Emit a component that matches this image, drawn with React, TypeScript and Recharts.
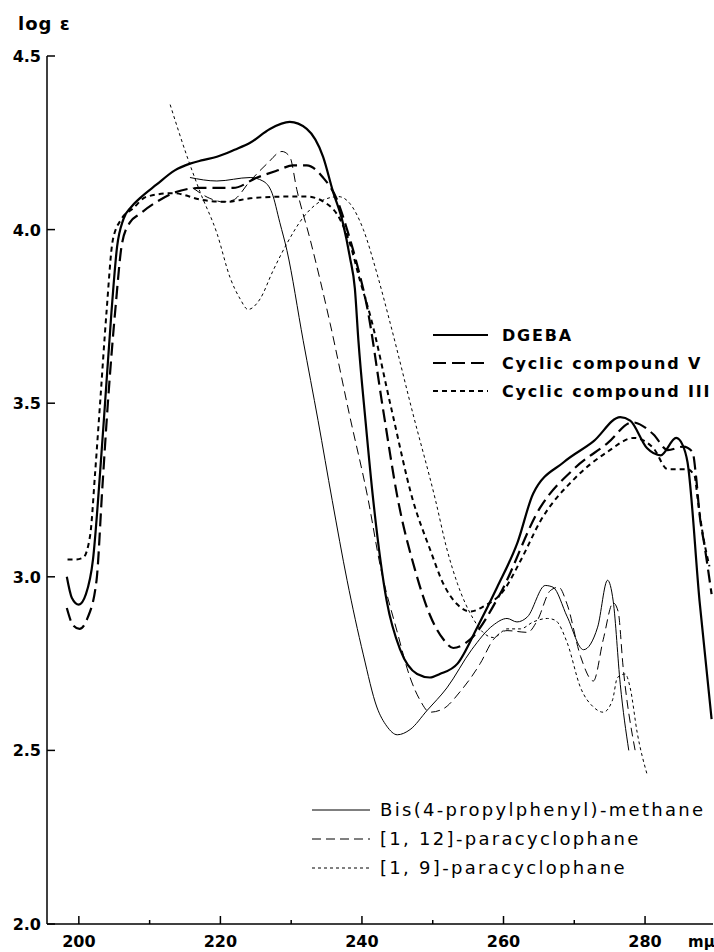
import { LineChart, Line, XAxis, YAxis } from "recharts";

// wavelength (mμ), log ε
const dgeba: [number, number][] = [
  [198.3, 3.0], [199.0, 2.94], [200.0, 2.92], [201.0, 2.95], [202.0, 3.05], [203.0, 3.3],
  [203.7, 3.5], [204.6, 3.76], [205.4, 3.95], [206.3, 4.03], [207.4, 4.065], [208.6, 4.09],
  [211.0, 4.13], [213.5, 4.17], [215.7, 4.19], [217.5, 4.2], [219.5, 4.21], [222.0, 4.23],
  [224.2, 4.25], [227.0, 4.29], [229.8, 4.31], [232.2, 4.29], [234.5, 4.21], [235.9, 4.11],
  [237.3, 4.02], [238.3, 3.92], [239.0, 3.83], [239.5, 3.68], [240.5, 3.45], [241.6, 3.22],
  [243.5, 2.93], [245.4, 2.79], [247.8, 2.72], [249.6, 2.71], [251.0, 2.72], [253.5, 2.75],
  [256.3, 2.855], [259.1, 2.97], [262.0, 3.1], [264.2, 3.24], [268.5, 3.33], [272.7, 3.39],
  [276.5, 3.46], [277.9, 3.45], [280.3, 3.37], [282.2, 3.35], [284.4, 3.4], [285.3, 3.38],
  [286.0, 3.33], [287.7, 2.93], [289.4, 2.59],
];

const cyclicV: [number, number][] = [
  [198.3, 2.91], [199.2, 2.86], [200.1, 2.85], [201.2, 2.88], [202.5, 2.99], [203.3, 3.25],
  [204.1, 3.5], [205.2, 3.78], [206.1, 3.96], [207.2, 4.02], [208.6, 4.045], [211.0, 4.08],
  [213.3, 4.105], [217.1, 4.12], [221.8, 4.12], [225.2, 4.15], [228.0, 4.17], [230.3, 4.185],
  [232.2, 4.185], [234.5, 4.15], [236.5, 4.085], [237.9, 4.0], [239.3, 3.9], [240.7, 3.78],
  [243.0, 3.48], [245.1, 3.22], [247.5, 3.02], [249.6, 2.89], [251.5, 2.82], [252.9, 2.795],
  [255.3, 2.82], [259.5, 2.95], [265.2, 3.2], [269.9, 3.31], [274.7, 3.385], [278.2, 3.445],
  [281.2, 3.41], [283.2, 3.365], [285.4, 3.375], [286.7, 3.36], [287.2, 3.29], [287.7, 3.18],
  [288.4, 3.09], [289.4, 2.95],
];

const cyclicIII: [number, number][] = [
  [198.4, 3.05], [199.5, 3.05], [200.6, 3.055], [201.6, 3.12], [202.3, 3.3], [203.0, 3.5],
  [203.9, 3.76], [204.8, 3.97], [206.0, 4.03], [207.6, 4.06], [209.6, 4.095], [213.3, 4.105],
  [217.5, 4.085], [220.9, 4.08], [224.2, 4.09], [228.9, 4.095], [232.2, 4.095], [235.0, 4.075],
  [236.9, 4.03], [238.3, 3.96], [239.7, 3.855], [241.2, 3.75], [244.2, 3.48], [247.2, 3.22],
  [249.6, 3.08], [251.5, 2.98], [253.5, 2.92], [255.3, 2.9], [257.2, 2.915], [260.0, 2.96],
  [262.5, 3.05], [265.2, 3.16], [269.9, 3.28], [274.7, 3.36], [278.4, 3.4], [281.2, 3.37],
  [283.2, 3.31], [285.9, 3.31], [287.0, 3.29], [287.4, 3.23], [288.1, 3.13], [289.1, 3.03],
];

const bisMethane: [number, number][] = [
  [215.7, 4.15], [219.5, 4.14], [224.2, 4.15], [226.0, 4.14], [227.3, 4.105], [228.4, 4.02],
  [229.4, 3.94], [231.7, 3.68], [233.8, 3.45], [235.8, 3.22], [237.9, 2.99], [240.2, 2.775],
  [242.1, 2.625], [243.5, 2.57], [245.0, 2.545], [246.8, 2.56], [249.2, 2.615], [252.0, 2.68],
  [255.5, 2.79], [258.5, 2.86], [260.5, 2.88], [261.9, 2.87], [263.4, 2.885], [265.9, 2.975],
  [267.0, 2.97], [269.0, 2.885], [271.3, 2.79], [273.3, 2.855], [274.7, 2.99], [275.5, 2.93],
  [276.5, 2.69], [277.7, 2.5],
];

const para12: [number, number][] = [
  [216.1, 4.12], [218.5, 4.09], [220.4, 4.08], [221.8, 4.085], [224.2, 4.14], [226.6, 4.19],
  [228.7, 4.225], [229.8, 4.21], [230.8, 4.115], [232.7, 3.97], [235.5, 3.73], [238.2, 3.47],
  [240.9, 3.22], [242.6, 3.03], [245.0, 2.84], [246.8, 2.71], [248.2, 2.645], [249.6, 2.61],
  [251.5, 2.62], [253.9, 2.67], [256.7, 2.75], [258.6, 2.82], [260.5, 2.845], [263.4, 2.84],
  [264.8, 2.875], [266.6, 2.96], [267.8, 2.97], [269.0, 2.92], [270.9, 2.77], [272.7, 2.7],
  [274.1, 2.82], [275.5, 2.925], [276.2, 2.9], [276.9, 2.74], [278.6, 2.5],
];

const para9: [number, number][] = [
  [212.9, 4.36], [215.3, 4.21], [217.1, 4.11], [219.5, 3.99], [221.4, 3.86], [222.8, 3.8],
  [223.9, 3.77], [225.6, 3.8], [227.4, 3.88], [229.4, 3.96], [231.7, 4.035], [234.5, 4.085],
  [236.7, 4.095], [238.3, 4.075], [240.2, 4.0], [242.1, 3.875], [244.0, 3.73], [247.2, 3.47],
  [250.4, 3.22], [252.0, 3.08], [253.5, 2.98], [255.7, 2.88], [257.1, 2.84], [258.6, 2.825],
  [260.5, 2.85], [262.4, 2.85], [264.2, 2.87], [266.2, 2.88], [267.3, 2.875], [269.0, 2.81],
  [270.9, 2.68], [272.7, 2.625], [274.1, 2.61], [275.4, 2.645], [276.1, 2.71], [277.2, 2.72],
  [277.9, 2.68], [278.9, 2.55], [280.3, 2.43],
];

const xTicks = [200, 210, 220, 230, 240, 250, 260, 270, 280];
const yTicks = [2.0, 2.5, 3.0, 3.5, 4.0, 4.5];

const upperLegend = [
  { name: "DGEBA", width: 2.2, dash: undefined },
  { name: "Cyclic compound V", width: 2.2, dash: "13 6" },
  { name: "Cyclic compound III", width: 2, dash: "5 4" },
];
const lowerLegend = [
  { name: "Bis(4-propylphenyl)-methane", width: 1, dash: undefined },
  { name: "[1, 12]-paracyclophane", width: 1, dash: "9 5" },
  { name: "[1, 9]-paracyclophane", width: 1, dash: "3 3" },
];

const toRows = (pts: [number, number][]) => pts.map(([x, y]) => ({ x, y }));

const FONT = "'DejaVu Sans', sans-serif";

const YTick = (props: any) => {
  const { x, y, payload } = props;
  return (
    <g>
      <line x1={x} x2={x + 8} y1={y} y2={y} stroke="#000" strokeWidth={1.5} />
      <text x={x - 6} y={y} dy={6} textAnchor="end" fontFamily={FONT} fontWeight="bold" fontSize={16} fill="#000">
        {Number(payload.value).toFixed(1)}
      </text>
    </g>
  );
};

const XTick = (props: any) => {
  const { x, y, payload } = props;
  const major = payload.value % 20 === 0;
  return (
    <g>
      <line x1={x} x2={x} y1={y} y2={y - (major ? 8 : 4)} stroke="#000" strokeWidth={1.5} />
      {major && (
        <text x={x} y={y + 23} textAnchor="middle" fontFamily={FONT} fontWeight="bold" fontSize={16} fill="#000">
          {payload.value}
        </text>
      )}
    </g>
  );
};

export default function App() {
  return (
    <div style={{ position: "absolute", left: 0, top: 0, width: 714, height: 952, background: "#fff" }}>
      <LineChart width={714} height={952} margin={{ top: 56, right: 1, bottom: 0, left: 0 }}>
        <XAxis
          type="number"
          dataKey="x"
          domain={[195.5, 289.6]}
          ticks={xTicks}
          allowDataOverflow
          height={28}
          tickSize={0}
          tickMargin={0}
          tickLine={false}
          tick={<XTick />}
          axisLine={{ stroke: "#000", strokeWidth: 1.5 }}
        />
        <YAxis
          type="number"
          dataKey="y"
          domain={[2, 4.5]}
          ticks={yTicks}
          allowDataOverflow
          width={47}
          tickSize={0}
          tickMargin={0}
          tickLine={false}
          tick={<YTick />}
          axisLine={{ stroke: "#000", strokeWidth: 1.5 }}
        />
        <Line data={toRows(dgeba)} dataKey="y" type="monotone" stroke="#000" strokeWidth={2.2} dot={false} isAnimationActive={false} />
        <Line data={toRows(cyclicV)} dataKey="y" type="monotone" stroke="#000" strokeWidth={2.2} strokeDasharray="13 6" dot={false} isAnimationActive={false} />
        <Line data={toRows(cyclicIII)} dataKey="y" type="monotone" stroke="#000" strokeWidth={2} strokeDasharray="5 4" dot={false} isAnimationActive={false} />
        <Line data={toRows(bisMethane)} dataKey="y" type="monotone" stroke="#000" strokeWidth={1} dot={false} isAnimationActive={false} />
        <Line data={toRows(para12)} dataKey="y" type="monotone" stroke="#000" strokeWidth={1} strokeDasharray="9 5" dot={false} isAnimationActive={false} />
        <Line data={toRows(para9)} dataKey="y" type="monotone" stroke="#000" strokeWidth={1} strokeDasharray="3 3" dot={false} isAnimationActive={false} />
      </LineChart>
      <svg width={714} height={952} style={{ position: "absolute", left: 0, top: 0, pointerEvents: "none" }}>
        <text x={18} y={30} fontFamily={FONT} fontWeight="bold" fontSize={18} letterSpacing={1} fill="#000">log ε</text>
        <text x={688} y={947} fontFamily={FONT} fontWeight="bold" fontSize={15} fill="#000">mμ</text>
        {upperLegend.map((item, i) => (
          <g key={item.name}>
            <line x1={433} x2={488} y1={335 + i * 28} y2={335 + i * 28} stroke="#000" strokeWidth={item.width} strokeDasharray={item.dash} />
            <text x={502} y={335 + i * 28} dy={6} fontFamily={FONT} fontWeight="bold" fontSize={16} letterSpacing={1.8} fill="#000">
              {item.name}
            </text>
          </g>
        ))}
        {lowerLegend.map((item, i) => (
          <g key={item.name}>
            <line x1={312} x2={370} y1={810 + i * 29} y2={810 + i * 29} stroke="#000" strokeWidth={item.width} strokeDasharray={item.dash} />
            <text x={380} y={810 + i * 29} dy={6} fontFamily={FONT} fontSize={18} letterSpacing={2.3} fill="#000">
              {item.name}
            </text>
          </g>
        ))}
      </svg>
    </div>
  );
}
